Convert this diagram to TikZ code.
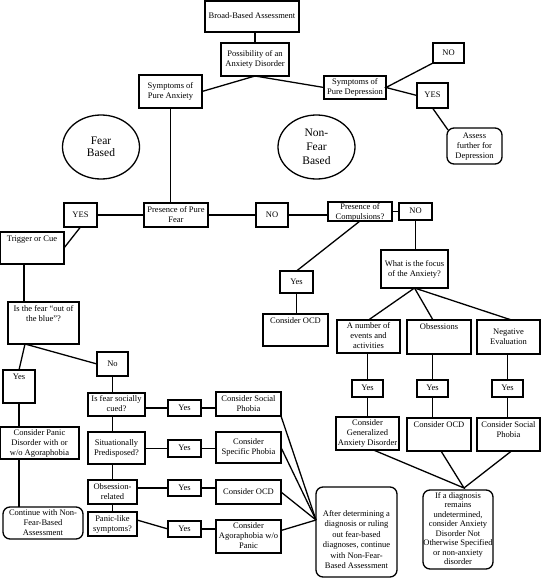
\documentclass[tikz,border=0pt]{standalone}
\usepackage{fontspec}
\setmainfont{Liberation Serif}
\usetikzlibrary{shapes.geometric,calc}
\tikzset{
 bxs/.style={draw, line width=1.3pt, node font=\fontsize{8.5}{10}\selectfont},
 rbx/.style={bxs, rounded corners=7pt},
 conn/.style={line width=1.3pt},
 elli/.style={draw, ellipse, line width=1.3pt, minimum width=77pt, minimum height=64pt, inner sep=0pt, align=center}
}
\def\vpta{\vskip 2pt}\def\vptb{\vfil}
\def\vpca{\vfil}\def\vpcb{\vfil}
\def\vpba{\vfil}\def\vpbb{\vskip 5pt}
\newcommand\bx[8]{%
 \node[#1, minimum width={(#5-#3)*1pt}, minimum height={(#6-#4)*1pt}, inner sep=0pt, outer sep=0pt] (#2) at ({(#3+#5)/2},{(#4+#6)/2}) {\vbox to \dimexpr #6pt-#4pt\relax{\csname vp#7a\endcsname\hbox to \dimexpr #5pt-#3pt\relax{\hss\begin{tabular}{@{}c@{}}#8\end{tabular}\hss}\csname vp#7b\endcsname}};}
\begin{document}
\begin{tikzpicture}[x=1pt,y=-1pt]
\useasboundingbox (0,0) rectangle (541,579);
% top part
\bx{bxs}{broad}{205}{1}{299}{32}{c}{Broad-Based Assessment}
\bx{bxs}{poss}{221}{43}{289}{76}{c}{Possibility of an\\Anxiety Disorder}
\bx{bxs}{anx}{139}{75}{202}{108}{c}{Symptoms of\\Pure Anxiety}
\bx{bxs}{dep}{324}{76}{386}{99}{c}{Symptoms of\\Pure Depression}
\bx{bxs}{no1}{433}{43}{464}{63}{c}{NO}
\bx{bxs}{yes1}{417}{83}{448}{108}{c}{YES}
\bx{rbx}{assess}{447}{128}{502}{164}{c}{Assess\\further for\\Depression}
\node[elli, node font=\fontsize{11.5}{11.5}\selectfont] (fearb) at (101,147) {Fear\\Based};
\node[elli, node font=\fontsize{11.5}{14}\selectfont] (nfearb) at (316.5,147) {Non-\\Fear\\Based};
% presence row
\bx{bxs}{yes2}{64}{203}{97}{227}{c}{YES}
\bx{bxs}{pfear}{144}{203}{208}{227}{c}{Presence of Pure\\Fear}
\bx{bxs}{no2}{256}{203}{288}{227}{c}{NO}
\bx{bxs}{comp}{328}{202}{392}{221}{c}{Presence of\\Compulsions?}
\bx{bxs}{no3}{399}{203}{432}{220}{c}{NO}
% non-fear branch
\bx{bxs}{yes3}{280}{271}{313}{293}{c}{Yes}
\bx{bxs}{ocd1}{263}{314}{328}{346}{t}{Consider OCD}
\bx{bxs}{focus}{381}{250}{448}{288}{c}{What is the focus\\of the Anxiety?}
\bx{bxs}{num}{337}{320}{400}{353}{c}{A number of\\events and\\activities}
\bx{bxs}{obs}{407}{320}{471}{354}{t}{Obsessions}
\bx{bxs}{neg}{477}{320}{540}{354}{c}{Negative\\Evaluation}
\bx{bxs}{yesA}{352}{380}{383}{397}{c}{Yes}
\bx{bxs}{yesB}{417}{380}{448}{397}{c}{Yes}
\bx{bxs}{yesC}{492}{380}{523}{397}{c}{Yes}
\bx{bxs}{gad}{336}{417}{399}{450}{c}{Consider\\Generalized\\Anxiety Disorder}
\bx{bxs}{ocd2}{407}{418}{471}{451}{t}{Consider OCD}
\bx{bxs}{soc2}{477}{418}{540}{451}{t}{Consider Social\\Phobia}
\bx{rbx,node font=\fontsize{8.5}{9.5}\selectfont}{ifd}{423}{490}{493}{569}{c}{If a diagnosis\\remains\\undetermined,\\consider Anxiety\\Disorder Not\\Otherwise Specified\\or non-anxiety\\disorder}
% fear branch
\bx{bxs}{trig}{0}{232}{64}{264}{t}{Trigger or Cue}
\bx{bxs}{isfear}{8}{302}{79}{344}{t}{Is the fear ``out of\\the blue''?}
\bx{bxs}{no4}{97}{352}{128}{376}{c}{No}
\bx{bxs}{yes4}{3}{370}{35}{403}{t}{Yes}
\bx{bxs}{pd}{0}{427}{79}{459}{c}{Consider Panic\\Disorder with or\\w/o Agoraphobia}
\bx{rbx}{cont}{3}{507}{83}{539}{c}{Continue with Non-\\Fear-Based\\Assessment}
\bx{bxs}{cued}{88}{393}{145}{416}{c}{Is fear socially\\cued?}
\bx{bxs}{yc1}{168}{400}{201}{416}{c}{Yes}
\bx{bxs}{soc1}{216}{392}{281}{416}{c}{Consider Social\\Phobia}
\bx{bxs}{situ}{88}{432}{145}{464}{c}{Situationally\\Predisposed?}
\bx{bxs}{yc2}{168}{440}{201}{457}{c}{Yes}
\bx{bxs}{spec}{216}{432}{281}{463}{c}{Consider\\Specific Phobia}
\bx{bxs}{obsr}{88}{480}{137}{504}{c}{Obsession-\\related}
\bx{bxs}{yc3}{168}{480}{201}{496}{c}{Yes}
\bx{bxs}{ocd3}{216}{480}{281}{504}{c}{Consider OCD}
\bx{bxs}{panic}{88}{512}{137}{536}{c}{Panic-like\\symptoms?}
\bx{bxs}{yc4}{168}{521}{201}{537}{c}{Yes}
\bx{bxs}{agora}{216}{520}{281}{553}{c}{Consider\\Agoraphobia w/o\\Panic}
\bx{rbx,node font=\fontsize{8.5}{10.5}\selectfont}{after}{316}{487}{397}{577}{b}{After determining a\\diagnosis or ruling\\out fear-based\\diagnoses, continue\\with Non-Fear-\\Based Assessment}
% connectors top
\draw[conn] (poss.north) -- (poss.north |- broad.south);
\draw[conn] (anx.east) -- (poss.south) -- (dep.west);
\draw[conn] (no1.south west) -- (dep.east) -- (yes1.west);
\draw[conn] (yes1.south) -- ([xshift=1pt,yshift=-2pt]assess.north west);
\draw[conn] (anx.south) -- (anx.south |- pfear.north);
\draw[conn] (yes2.east) -- (pfear.west);
\draw[conn] (pfear.east) -- (no2.west);
\draw[conn] (no2.east) -- (no2.east -| comp.west);
\draw[conn] (comp.east) -- (comp.east -| no3.west);
\draw[conn] (no3.south) -- (no3.south |- focus.north);
\draw[conn] (comp.south) -- (yes3.north);
\draw[conn] (yes3.south) -- (yes3.south |- ocd1.north);
\draw[conn] (num.north) -- (focus.south) -- ([xshift=-6pt]obs.north);
\draw[conn] (focus.south) -- ([xshift=3pt]neg.north);
\draw[conn] (yesA.north |- num.south) -- (yesA.north);
\draw[conn] (yesA.south) -- (yesA.south |- gad.north);
\draw[conn] (yesB.north |- obs.south) -- (yesB.north);
\draw[conn] (yesB.south) -- (yesB.south |- ocd2.north);
\draw[conn] (yesC.north |- neg.south) -- (yesC.north);
\draw[conn] (yesC.south) -- (yesC.south |- soc2.north);
\coordinate (ifdt) at ([xshift=6pt,yshift=2pt]ifd.north);
\draw[conn] ([xshift=6pt]gad.south) -- (ifdt) -- ([xshift=2pt]ocd2.south);
\draw[conn] (ifdt) -- ([xshift=3pt]soc2.south);
% connectors fear branch
\draw[conn] (yes2.south) -- (trig.east);
\draw[conn] ([xshift=-8pt]trig.south) -- ([xshift=-8pt]trig.south |- isfear.north);
\coordinate (isb) at ([xshift=-18.5pt]isfear.south);
\draw[conn] (yes4.north) -- (isb) -- (no4.west);
\draw[conn] (no4.south) -- (no4.south |- cued.north);
\draw[conn] (cued.east |- yc1.west) -- (yc1.west);
\draw[conn] (yc1.east) -- (yc1.east -| soc1.west);
\draw[conn] (no4.south |- cued.south) -- (no4.south |- situ.north);
\draw[conn] (situ.east |- yc2.west) -- (yc2.west);
\draw[conn] (yc2.east) -- (yc2.east -| spec.west);
\draw[conn] (obsr.north |- situ.south) -- (obsr.north);
\draw[conn] (obsr.east |- yc3.west) -- (yc3.west);
\draw[conn] (yc3.east) -- (yc3.east -| ocd3.west);
\draw[conn] (obsr.south) -- (panic.north);
\draw[conn] ([yshift=4pt]panic.east) -- (yc4.west);
\draw[conn] (yc4.east) -- (yc4.east -| agora.west);
\draw[conn] (yes4.south) -- (yes4.south |- pd.north);
\draw[conn] (yes4.south |- pd.south) -- (yes4.south |- cont.north);
\coordinate (aft) at ([yshift=12pt]after.west);
\draw[conn] (soc1.south east) -- (aft);
\draw[conn] (spec.east) -- (aft);
\draw[conn] (ocd3.east) -- (aft);
\draw[conn] ([yshift=6pt]agora.east) -- (aft);
\end{tikzpicture}
\end{document}
